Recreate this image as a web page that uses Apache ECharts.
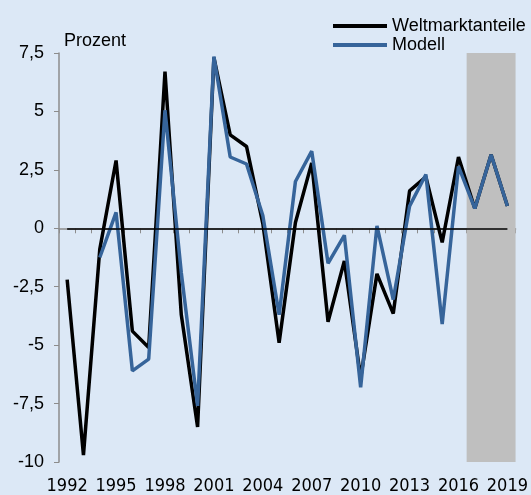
<!DOCTYPE html>
<html>
<head>
<meta charset="utf-8">
<script src="https://cdn.jsdelivr.net/npm/echarts@6/dist/echarts.min.js"></script>
<style>
html,body{margin:0;padding:0;background:#DCE8F6;}
#chart{width:531px;height:495px;}
</style>
</head>
<body>
<div id="chart"></div>
<script>
const years = ['1992','1993','1994','1995','1996','1997','1998','1999','2000','2001','2002','2003','2004','2005','2006','2007','2008','2009','2010','2011','2012','2013','2014','2015','2016','2017','2018','2019'];
const weltmarktanteile = [-2.2,-9.7,-0.9,2.9,-4.4,-5.1,6.7,-3.7,-8.5,7.3,4.0,3.5,0.2,-4.9,0.25,2.8,-4.0,-1.4,-6.4,-1.95,-3.65,1.6,2.2,-0.6,3.05,0.85,3.15,0.95];
const modell = [null,null,-1.25,0.68,-6.1,-5.6,5.05,-1.9,-7.6,7.35,3.05,2.75,0.55,-3.7,2.0,3.3,-1.5,-0.3,-6.8,0.1,-3.05,0.95,2.3,-4.1,2.65,0.85,3.15,0.95];
const forecastYears = ['2017','2018','2019'];
const yTicks = [-10,-7.5,-5,-2.5,0,2.5,5,7.5];
const seriesNames = ['Weltmarktanteile','Modell'];
const axisTitle = 'Prozent';

const chart = echarts.init(document.getElementById('chart'), null, {renderer:'canvas'});
const font = 'Liberation Sans, Arial, sans-serif';
const firstYear = Number(years[0]);
const lastYear = Number(years[years.length-1]);

chart.setOption({
  backgroundColor:'#DCE8F6',
  animation:false,
  textStyle:{fontFamily:font},
  grid:{left:59,right:15,top:53,bottom:30,containLabel:false},
  legend:{
    orient:'vertical', left:333, top:17, padding:0, itemWidth:54, itemHeight:4, itemGap:1,
    icon:'rect',
    textStyle:{fontSize:18,color:'#000',fontFamily:font},
    data:seriesNames
  },
  graphic:[{type:'text', left:64, top:32, style:{text:axisTitle, font:'18px '+font, fill:'#000'}}],
  xAxis:[{
    type:'category', data:years, boundaryGap:true,
    axisLine:{lineStyle:{color:'#8C8C8C',width:1.5}},
    axisTick:{show:true,length:5,interval:0,lineStyle:{color:'#8C8C8C'}},
    axisLabel:{interval:2,fontSize:18,color:'#000',margin:15,fontFamily:'Liberation Sans Narrow, Arial Narrow, DejaVu Sans Condensed, sans-serif'},
    splitLine:{show:false}
  },{
    type:'value', min:firstYear-0.5, max:lastYear+0.5, show:false
  }],
  yAxis:{
    type:'value', min:yTicks[0], max:yTicks[yTicks.length-1], interval:2.5,
    axisLine:{show:true,lineStyle:{color:'#8C8C8C',width:1.5}},
    axisTick:{show:true,length:5,lineStyle:{color:'#8C8C8C'}},
    axisLabel:{fontSize:18,color:'#000',margin:15,formatter:v=>String(v).replace('.',',')},
    splitLine:{show:false}
  },
  series:[
    {
      type:'line', xAxisIndex:1, data:[], silent:true,
      markArea:{silent:true,itemStyle:{color:'#BFBFBF',opacity:1},
        data:[[{xAxis:Number(forecastYears[0])-0.5},{xAxis:Number(forecastYears[forecastYears.length-1])+0.5}]]}
    },
    {
      name:seriesNames[0], type:'line', data:weltmarktanteile, symbol:'none',
      lineStyle:{color:'#000',width:3.5}, itemStyle:{color:'#000'},
      markLine:{silent:true,symbol:'none',label:{show:false},lineStyle:{color:'#000',width:1.5,type:'solid'},
        data:[[{coord:[years[0],0]},{coord:[years[years.length-1],0]}]]}
    },
    {
      name:seriesNames[1], type:'line', data:modell, symbol:'none',
      lineStyle:{color:'#36649A',width:3.5}, itemStyle:{color:'#36649A'}
    }
  ]
});
</script>
</body>
</html>
